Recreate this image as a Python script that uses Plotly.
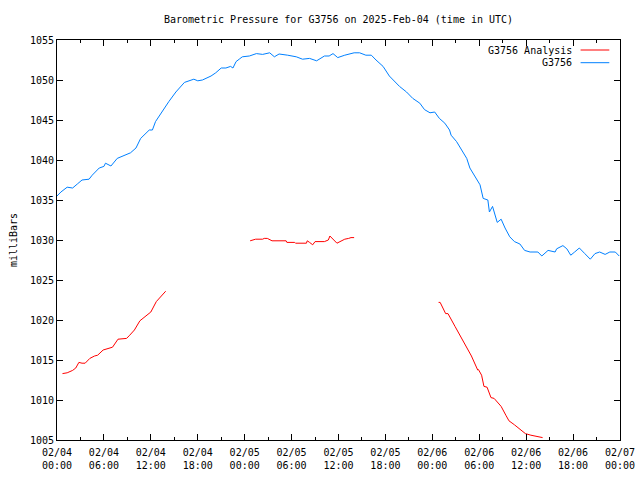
import pandas as pd
import plotly.graph_objects as go

START = pd.Timestamp("2025-02-04 00:00")

# Observed station pressure (hours since 2025-02-04 00:00 UTC, mb)
obs_hours = [0.0, 0.5, 1.3, 2.0, 2.6, 3.2, 4.1, 4.5, 5.4, 6.0, 6.2, 6.9, 7.7, 9.0, 9.4, 10.1,
             10.7, 11.8, 12.2, 12.6, 13.7, 14.3, 15.2, 16.3, 17.5, 18.0, 18.6, 19.3, 19.7,
             20.3, 21.0, 21.6, 22.2, 22.5, 22.9, 23.3, 23.7, 24.6, 25.5, 26.3, 27.2, 27.8,
             28.4, 29.5, 30.6, 31.4, 32.3, 33.2, 34.2, 34.8, 35.3, 35.9, 36.8, 38.0, 38.7,
             39.5, 40.2, 40.8, 41.7, 42.5, 43.2, 43.8, 44.7, 45.5, 46.4, 47.0, 47.7, 48.3,
             48.9, 49.6, 50.2, 50.4, 51.1, 51.7, 52.4, 52.8, 53.4, 54.1, 54.5, 55.1, 55.3,
             55.7, 56.3, 56.8, 57.3, 57.9, 58.5, 59.2, 59.8, 60.5, 61.5, 62.0, 62.8, 63.7,
             63.9, 64.7, 65.2, 65.7, 66.2, 66.8, 67.5, 68.2, 68.8, 69.4, 70.1, 70.7, 71.4, 71.9]
obs_mb = [1035.5, 1036.0, 1036.6, 1036.5, 1037.0, 1037.5, 1037.6, 1038.1, 1039.0, 1039.2, 1039.6,
          1039.25, 1040.2, 1040.75, 1040.9, 1041.5, 1042.7, 1043.75, 1043.75, 1044.8, 1046.5,
          1047.3, 1048.5, 1049.7, 1050.1, 1049.9, 1050.0, 1050.3, 1050.5, 1050.9, 1051.5,
          1051.5, 1051.7, 1051.5, 1052.3, 1052.6, 1052.9, 1053.0, 1053.3, 1053.2, 1053.4,
          1052.9, 1053.25, 1053.1, 1052.9, 1052.6, 1052.7, 1052.4, 1053.0, 1053.0, 1053.3,
          1052.8, 1053.1, 1053.4, 1053.4, 1053.1, 1053.1, 1052.5, 1051.7, 1050.5, 1049.8,
          1049.2, 1048.5, 1047.7, 1047.1, 1046.3, 1045.9, 1046.0, 1045.2, 1044.6, 1043.75,
          1043.1, 1042.3, 1041.25, 1040.2, 1039.0, 1038.1, 1036.9, 1035.2, 1035.0, 1033.5,
          1034.2, 1032.2, 1032.6, 1031.5, 1030.4, 1029.8, 1029.5, 1028.7, 1028.5, 1028.5,
          1028.0, 1028.7, 1028.5, 1028.9, 1029.3, 1028.9, 1028.1, 1028.5, 1029.0, 1028.3,
          1027.6, 1028.3, 1028.5, 1028.2, 1028.5, 1028.5, 1028.0]

# Analysis pressure: three separate segments (None = gap)
ana_hours = [0.7, 1.3, 2.0, 2.4, 2.8, 3.2, 3.6, 4.2, 4.8, 5.2, 5.9, 6.7, 7.1, 7.8, 8.9, 9.3,
             9.9, 10.6, 11.2, 11.8, 12.0, 12.7, 13.3, 13.9,
             None,
             24.7, 25.4, 26.3, 26.5, 26.9, 27.5, 29.3, 29.4, 30.4, 30.5, 31.9, 32.0, 32.3,
             32.7, 33.0, 34.2, 34.7, 34.9, 35.8, 36.1, 36.8, 37.3, 37.6, 38.0,
             None,
             48.8, 49.0, 49.7, 50.0, 50.9, 52.0, 53.0, 53.8, 53.9, 54.3, 54.6, 55.0, 55.5,
             55.9, 56.8, 57.4, 57.8, 58.5, 59.2, 59.9, 60.6, 61.1, 61.6, 62.1]
ana_mb = [1013.3, 1013.4, 1013.7, 1014.0, 1014.7, 1014.6, 1014.6, 1015.2, 1015.5, 1015.6,
          1016.25, 1016.5, 1016.6, 1017.6, 1017.7, 1018.1, 1018.75, 1019.9, 1020.4, 1020.8,
          1021.0, 1022.3, 1023.0, 1023.6,
          None,
          1029.9, 1030.1, 1030.1, 1030.2, 1030.2, 1029.9, 1029.9, 1029.7, 1029.7, 1029.6,
          1029.6, 1029.9, 1029.7, 1029.4, 1029.8, 1029.8, 1030.0, 1030.5, 1029.6, 1029.75,
          1030.1, 1030.2, 1030.3, 1030.3,
          None,
          1022.2, 1022.2, 1020.8, 1020.8, 1019.2, 1017.3, 1015.5, 1013.75, 1013.8, 1013.1,
          1011.7, 1011.6, 1010.3, 1010.2, 1009.2, 1008.1, 1007.4, 1006.9, 1006.3, 1005.8,
          1005.6, 1005.5, 1005.4, 1005.3]

tick_hours = [0, 6, 12, 18, 24, 30, 36, 42, 48, 54, 60, 66, 72]
tick_labels = ["02/04<br>00:00", "02/04<br>06:00", "02/04<br>12:00", "02/04<br>18:00",
               "02/05<br>00:00", "02/05<br>06:00", "02/05<br>12:00", "02/05<br>18:00",
               "02/06<br>00:00", "02/06<br>06:00", "02/06<br>12:00", "02/06<br>18:00",
               "02/07<br>00:00"]
y_ticks = [1005, 1010, 1015, 1020, 1025, 1030, 1035, 1040, 1045, 1050, 1055]

series_names = ["G3756 Analysis", "G3756"]
series_colors = ["#ff0000", "#0080ff"]


def to_time(hours):
    return [None if h is None else START + pd.Timedelta(hours=h) for h in hours]


FONT = "DejaVu Sans Mono"
FS = 10

fig = go.Figure()
fig.add_trace(go.Scatter(x=to_time(ana_hours), y=ana_mb, mode="lines",
                         line=dict(color=series_colors[0], width=1),
                         name=series_names[0], connectgaps=False))
fig.add_trace(go.Scatter(x=to_time(obs_hours), y=obs_mb, mode="lines",
                         line=dict(color=series_colors[1], width=1),
                         name=series_names[1]))

# gnuplot-style legend: right-aligned text followed by a line sample
for i, (nm, col) in enumerate(zip(series_names, series_colors)):
    ypix = 10 + 12.7 * i  # offset from plot top in px
    yfrac = 1 - ypix / 400
    fig.add_annotation(x=0.918, y=yfrac, xref="paper", yref="paper", text=nm,
                       showarrow=False, xanchor="right", yanchor="middle",
                       font=dict(family=FONT, size=FS, color="black"))
    fig.add_shape(type="line", xref="paper", yref="paper", x0=0.93, x1=0.981,
                  y0=yfrac, y1=yfrac, line=dict(color=col, width=1))

fig.update_layout(
    width=640, height=480,
    margin=dict(l=57, r=20, t=40, b=40, autoexpand=False),
    paper_bgcolor="white", plot_bgcolor="white",
    showlegend=False,
    font=dict(family=FONT, size=FS, color="black"),
    title=dict(text="Barometric Pressure for G3756 on 2025-Feb-04 (time in UTC)",
               x=(57 + 620) / 2 / 640, xanchor="center", y=1 - 19 / 480, yanchor="middle",
               font=dict(family=FONT, size=FS, color="black")),
)
fig.update_xaxes(
    range=[START, START + pd.Timedelta(hours=72)],
    tickvals=to_time(tick_hours), ticktext=tick_labels,
    ticks="inside", ticklen=6, tickcolor="black", tickwidth=1,
    showline=True, linecolor="black", linewidth=1, mirror="ticks",
    showgrid=False, zeroline=False, automargin=False, ticklabelstandoff=3,
    minor=dict(dtick=3 * 3600 * 1000, tick0=START, ticks="inside", ticklen=3,
               tickcolor="black", showgrid=False),
    tickfont=dict(family=FONT, size=FS, color="black"),
)
fig.update_yaxes(
    range=[1005, 1055], tickvals=y_ticks,
    ticks="inside", ticklen=6, tickcolor="black", tickwidth=1,
    showline=True, linecolor="black", linewidth=1, mirror="ticks",
    showgrid=False, zeroline=False, automargin=False,
    title=dict(text="milliBars", font=dict(family=FONT, size=FS, color="black"), standoff=10),
    tickfont=dict(family=FONT, size=FS, color="black"),
)

fig.write_html("out.html")
